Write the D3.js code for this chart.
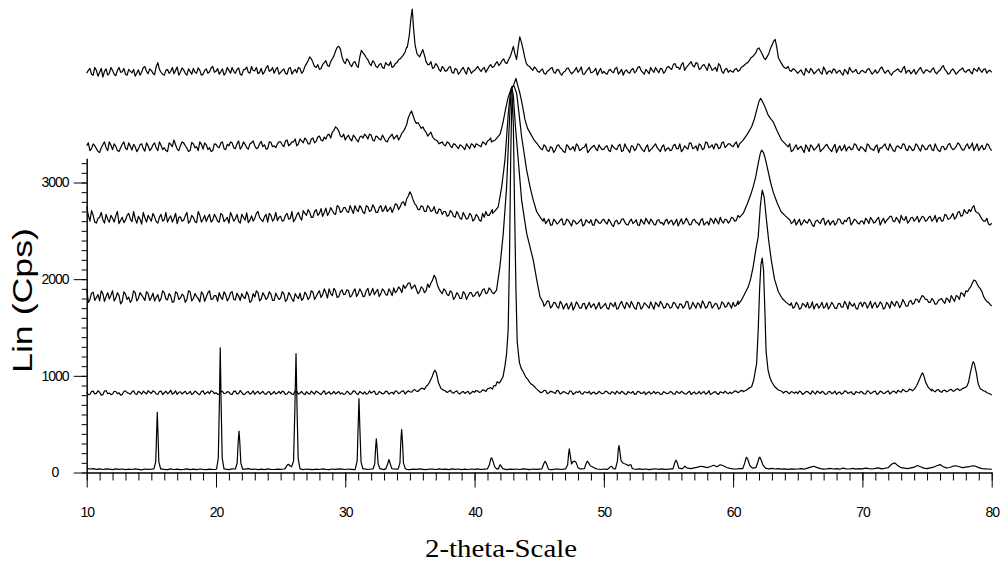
<!DOCTYPE html>
<html lang="en">
<head>
<meta charset="UTF-8">
<title>XRD patterns</title>
<script src="https://d3js.org/d3.v7.min.js"></script>
<style>
  body { margin: 0; background: #fff; }
  .tick text { font-family: "Liberation Sans", Arial, sans-serif; font-size: 14px; letter-spacing: -1px; fill: #000; }
  .axis path, .axis line { stroke: #000; }
</style>
</head>
<body>
<div id="chart"></div>
<script>
// scans read off every 0.25 deg from 10 to 80 (scanN), the in-between readings at +0.125 (midN),
// sharp peaks as extra [2theta, cps] points (peaksN)
var scanStart = 10, scanStep = 0.25;
var xMajor = [10, 20, 30, 40, 50, 60, 70, 80];
var yMajor = [0, 1000, 2000, 3000];

// bottom pattern (crystalline)
var scan1 = [
  42,36,40,33,38,31,37,34,30,38,33,36,29,35,31,37,33,28,36,32,
  34,30,36,38,33,29,37,31,35,30,33,38,30,34,29,36,32,30,35,31,
  33,36,40,35,30,37,33,38,31,35,40,32,36,30,34,29,37,33,31,35,
  32,36,34,42,40,38,35,30,36,33,29,35,31,38,32,30,36,33,37,34,
  31,36,33,29,35,32,38,31,36,33,34,37,30,35,32,36,34,31,38,33,
  30,35,32,37,33,29,36,34,31,38,33,35,30,37,32,36,29,34,31,36,
  33,38,31,35,40,34,45,40,33,37,30,35,32,36,31,38,34,30,36,33,
  35,32,37,33,30,36,34,31,38,33,36,32,34,37,31,35,39,33,36,31,
  36,32,38,34,30,37,33,36,31,35,33,38,32,36,30,35,39,33,37,32,
  34,38,40,42,40,45,45,40,48,55,65,58,50,62,75,60,80,70,52,42,
  38,36,40,36,150,70,45,50,150,80,45,38,42,36,40,35,38,33,37,34,
  36,40,34,45,55,65,50,40,35,38,42,36,40,34,45,38,36,42,35,40,
  38,45,40,36,42,48,38,44,50,85,100,70,50,45,40,48,55,72,60,45,
  40,48,55,70,82,60,48,52,65,70,60,50,55,60,70,65,50,40,38,36,
  32
];
var mid1 = [];
var peaks1 = [
  [[15.2,38],[15.34,110],[15.41,420],[15.46,623],[15.51,420],[15.58,110],[15.72,36]],
  [[20.05,40],[20.18,150],[20.26,700],[20.33,1290],[20.4,700],[20.48,150],[20.62,38]],
  [[21.5,36],[21.64,100],[21.72,320],[21.78,427],[21.84,320],[21.92,100],[22.06,34]],
  [[25.35,40],[25.5,75],[25.6,85],[25.72,70],[25.85,60],[26.0,120],[26.1,650],[26.19,1230],[26.27,650],[26.36,140],[26.5,38]],
  [[30.78,40],[30.92,120],[30.99,450],[31.06,765],[31.13,450],[31.22,110],[31.36,38]],
  [[32.15,36],[32.28,90],[32.35,260],[32.4,348],[32.46,260],[32.54,90],[32.68,38]],
  [[33.15,40],[33.28,90],[33.38,134],[33.48,90],[33.6,40]],
  [[34.1,38],[34.23,100],[34.3,330],[34.36,445],[34.42,330],[34.5,100],[34.64,40]],
  [[41.0,38],[41.15,80],[41.25,140],[41.32,152],[41.42,120],[41.55,60],[41.7,38]],
  [[41.85,38],[41.95,75],[42.0,80],[42.08,60],[42.2,36]],
  [[45.2,36],[45.35,90],[45.45,117],[45.55,95],[45.7,40]],
  [[47.05,38],[47.2,80],[47.28,200],[47.33,245],[47.4,180],[47.5,90],[47.6,110],[47.75,117],[47.85,105],[48.0,50],[48.15,38]],
  [[48.5,40],[48.62,90],[48.72,117],[48.82,100],[48.95,70],[49.1,60],[49.3,45],[49.45,38]],
  [[50.35,38],[50.5,60],[50.6,65],[50.72,40],[50.9,38],[51.05,120],[51.12,240],[51.17,279],[51.23,230],[51.32,130],[51.45,100],[51.6,90],[51.76,83],[51.9,70],[52.0,80],[52.1,80],[52.2,40],[52.35,36]],
  [[55.35,38],[55.48,100],[55.58,127],[55.68,100],[55.8,45]],
  [[56.1,40],[56.27,65],[56.45,45]],
  [[60.75,40],[60.9,100],[61.0,150],[61.04,158],[61.12,140],[61.3,70],[61.5,45],[61.75,50],[61.9,100],[62.0,150],[62.07,158],[62.15,135],[62.3,80],[62.5,45]]
];

// second pattern (sharp cubic reflections)
var scan2 = [
  835,810,842,818,830,805,848,822,812,838,825,806,845,820,832,815,840,810,828,846,
  818,836,809,842,825,815,850,822,808,835,828,812,840,818,830,806,845,824,815,838,
  826,810,839,820,832,808,842,818,827,812,836,821,809,840,824,815,833,806,838,822,
  817,834,812,828,806,840,822,815,836,810,825,842,818,830,808,836,820,813,838,824,
  812,830,818,840,808,826,835,815,822,842,810,828,819,836,824,812,838,826,845,830,
  835,850,842,858,870,890,930,1000,1050,900,860,845,838,828,836,820,832,818,840,825,
  830,842,836,850,865,878,900,940,990,1233,3900,1137,1042,990,960,950,957,935,905,870,
  841,832,848,825,836,818,842,822,830,812,838,820,828,815,835,822,810,832,818,826,
  820,835,812,828,842,816,830,808,825,838,814,832,820,806,836,822,815,830,810,827,
  818,832,810,826,840,815,828,806,834,820,812,838,822,808,830,816,836,820,826,832,
  828,840,836,845,850,870,887,1129,2218,1250,939,890,853,838,835,828,835,825,838,820,
  815,832,820,838,810,826,842,818,830,812,836,824,808,833,819,840,826,814,837,822,
  830,812,838,825,842,818,834,822,845,828,836,850,832,848,840,858,860,880,900,1000,
  880,860,845,852,838,848,835,856,842,860,850,870,887,960,1080,1146,1050,855,840,820,
  801
];
var mid2 = [
  805,838,812,845,800,842,815,806,840,815,800,838,826,810,845,806,828,842,812,830,
  845,812,838,806,842,828,810,845,830,812,840,820,806,842,812,838,810,836,845,816,
  808,842,815,836,810,840,812,848,806,832,810,845,828,812,840,808,836,820,812,840,
  842,808,836,812,845,810,838,806,820,842,812,830,806,845,822,810,838,826,812,808,
  840,808,845,815,838,812,810,845,832,808,838,812,842,810,830,845,815,840,812,845,
  830,858,838,870,860,905,960,1030,1000,880,850,828,850,820,845,812,838,830,812,840,
  848,828,855,838,872,862,895,925,960,1100,2000,1200,1060,1010,970,955,940,915,890,855,
  825,850,815,840,828,850,812,838,820,845,808,835,842,810,830,838,826,812,840,815,
  842,818,836,810,826,840,812,838,822,808,840,818,836,826,812,840,830,808,836,815,
  836,812,840,818,828,810,842,822,812,838,826,810,845,818,836,808,828,842,815,818,
  845,825,850,860,875,900,1000,1700,2000,1000,920,870,845,835,830,820,840,815,830,835,
  842,808,836,822,845,812,830,840,808,838,815,842,826,810,845,818,836,808,828,840,
  812,845,815,838,808,842,815,836,812,842,820,838,860,835,862,845,880,900,960,1010,
  870,862,835,858,830,852,842,860,845,866,855,880,900,1000,1146,1100,980,845,825,812
];
var peaks2 = [
  [[36.5,930],[36.7,985],[36.85,1040],[36.94,1058],[37.05,1030],[37.2,930],[37.4,870]],
  [[41.95,930],[42.2,990],[42.35,1100],[42.48,1233],[42.6,1478],[42.7,2200],[42.8,3300],[42.9,3935],[43.0,3600],[43.1,2700],[43.2,1900],[43.3,1350],[43.47,1137],[43.6,1080],[43.76,1042],[43.95,990],[44.15,957]],
  [[60.78,836],[61.0,850],[61.2,870],[61.43,887],[61.6,960],[61.7,1040],[61.82,1129],[61.94,1474],[62.05,1900],[62.15,2150],[62.25,2218],[62.35,2100],[62.45,1700],[62.55,1250],[62.7,1060],[62.85,980],[62.98,939],[63.2,890],[63.5,853],[63.8,838]],
  [[74.0,860],[74.2,900],[74.4,960],[74.55,1010],[74.65,1031],[74.75,1000],[74.9,930],[75.1,880],[75.35,845]],
  [[77.8,870],[78.06,887],[78.2,930],[78.35,1030],[78.5,1120],[78.57,1146],[78.65,1130],[78.8,1040],[78.95,920],[79.1,870],[79.3,850]]
];

var scan3 = [
  1900,1790,1865,1810,1775,1850,1820,1795,1880,1805,1830,1770,1845,1815,1790,1860,1800,1835,1780,1850,
  1810,1775,1840,1800,1860,1785,1825,1770,1855,1805,1830,1790,1870,1800,1820,1765,1845,1815,1880,1795,
  1830,1860,1790,1840,1805,1870,1785,1825,1850,1800,1835,1775,1815,1860,1795,1830,1810,1845,1780,1820,
  1805,1850,1790,1835,1770,1820,1855,1800,1840,1815,1865,1820,1880,1840,1860,1900,1830,1875,1820,1890,
  1845,1880,1830,1900,1850,1870,1825,1905,1860,1840,1895,1850,1880,1835,1870,1910,1880,1900,1940,1930,
  1960,1920,1895,1870,1905,1880,1915,1990,2010,1900,1850,1880,1830,1860,1815,1840,1800,1850,1825,1860,
  1830,1870,1850,1900,1860,1890,1887,2128,2474,2955,3976,3231,2818,2474,2198,2000,1900,1850,1800,1818,
  1818,1760,1740,1770,1720,1755,1700,1745,1730,1690,1760,1715,1740,1700,1750,1725,1705,1745,1720,1695,
  1730,1700,1755,1715,1690,1745,1720,1760,1705,1735,1690,1750,1710,1740,1700,1725,1760,1715,1745,1705,
  1735,1710,1750,1695,1740,1720,1765,1705,1730,1755,1700,1745,1715,1760,1725,1740,1705,1750,1720,1735,
  1760,1730,1784,1800,1850,1921,2128,2438,2921,2650,2200,1870,1800,1760,1730,1700,1745,1720,1755,1710,
  1740,1700,1735,1760,1715,1690,1745,1725,1700,1755,1720,1735,1695,1750,1710,1740,1765,1720,1700,1745,
  1715,1750,1730,1700,1760,1725,1745,1705,1740,1770,1720,1755,1735,1760,1720,1780,1750,1790,1800,1818,
  1790,1760,1780,1745,1790,1770,1805,1760,1800,1830,1790,1850,1880,1900,1960,1983,1920,1870,1790,1760,
  1720
];
var mid3 = [
  1760,1855,1780,1840,1880,1770,1860,1835,1775,1860,1745,1870,1790,1760,1880,1775,1860,1810,1870,1780,
  1855,1810,1770,1880,1795,1850,1760,1870,1790,1845,1760,1880,1775,1850,1800,1870,1770,1860,1790,1830,
  1770,1815,1870,1775,1860,1790,1855,1780,1815,1870,1760,1850,1880,1775,1860,1790,1870,1780,1855,1790,
  1870,1770,1860,1795,1850,1800,1780,1865,1790,1880,1790,1855,1810,1900,1805,1850,1905,1810,1870,1840,
  1890,1815,1870,1820,1900,1820,1880,1830,1905,1870,1820,1900,1840,1900,1830,1860,1920,1860,1905,1960,
  1900,1940,1850,1920,1860,1950,1960,2040,1940,1870,1900,1840,1880,1790,1860,1800,1870,1790,1860,1820,
  1860,1820,1890,1850,1910,1860,1900,2000,2300,2700,3800,3400,3000,2600,2300,2100,1950,1870,1800,1780,
  1790,1720,1775,1700,1760,1715,1770,1690,1750,1720,1680,1765,1700,1745,1690,1760,1730,1690,1760,1710,
  1750,1690,1740,1760,1700,1770,1695,1740,1770,1700,1760,1690,1755,1720,1765,1690,1740,1770,1700,1750,
  1700,1760,1715,1745,1700,1770,1690,1760,1700,1740,1775,1700,1765,1700,1750,1690,1765,1710,1760,1700,
  1720,1775,1800,1830,1900,2000,2200,2400,2800,2900,2500,2100,1900,1820,1780,1740,1720,1760,1700,1760,
  1690,1750,1710,1700,1765,1730,1700,1760,1715,1690,1760,1700,1745,1710,1770,1690,1735,1750,1690,1760,
  1760,1700,1770,1740,1705,1765,1690,1760,1700,1745,1770,1705,1790,1720,1770,1740,1795,1760,1830,1790,
  1760,1800,1740,1780,1800,1750,1790,1830,1770,1820,1860,1820,1870,1920,1990,1950,1900,1820,1770,1740
];
var peaks3 = [
  [[41.5,1850],[41.7,1887],[41.96,2128],[42.22,2474],[42.48,2955],[42.65,3500],[42.8,3900],[42.9,3976],[43.0,3900],[43.15,3600],[43.38,3231],[43.64,2818],[44.03,2474],[44.54,2198],[44.8,2000],[45.06,1818],[45.3,1760]],
  [[60.4,1740],[60.65,1784],[60.9,1850],[61.17,1921],[61.35,2000],[61.55,2128],[61.75,2300],[61.94,2438],[62.1,2750],[62.25,2921],[62.4,2850],[62.55,2650],[62.75,2400],[62.95,2200],[63.2,2000],[63.5,1870],[63.8,1800],[64.1,1760],[64.4,1730]]
];

var scan4 = [
  2750,2600,2660,2580,2640,2615,2670,2590,2630,2655,2575,2640,2610,2680,2595,2625,2650,2570,2635,2660,
  2600,2645,2580,2670,2615,2590,2655,2630,2575,2645,2610,2690,2600,2640,2585,2660,2620,2595,2670,2610,
  2640,2590,2665,2615,2580,2650,2625,2600,2670,2610,2585,2655,2630,2700,2615,2645,2590,2660,2625,2605,
  2650,2610,2680,2630,2595,2665,2640,2710,2660,2690,2640,2720,2680,2650,2735,2690,2710,2670,2750,2700,
  2740,2690,2720,2760,2700,2735,2680,2750,2710,2740,2690,2760,2720,2700,2745,2730,2770,2750,2800,2830,
  2904,2820,2760,2720,2750,2700,2740,2710,2690,2725,2670,2700,2660,2690,2640,2670,2620,2655,2630,2660,
  2620,2650,2600,2640,2660,2690,2710,2749,2955,3231,3715,3990,4000,3921,3473,3128,3000,2818,2700,2645,
  2645,2600,2575,2620,2560,2600,2585,2625,2570,2610,2550,2600,2580,2620,2565,2595,2615,2560,2605,2580,
  2620,2570,2595,2545,2610,2580,2625,2565,2600,2575,2615,2555,2590,2630,2570,2600,2560,2615,2585,2605,
  2570,2610,2585,2550,2625,2590,2600,2565,2620,2580,2610,2560,2595,2630,2575,2600,2640,2580,2615,2600,
  2630,2610,2640,2680,2780,2870,2955,3197,3335,3240,3000,2900,2790,2700,2660,2630,2600,2610,2575,2620,
  2590,2560,2615,2580,2600,2545,2610,2575,2630,2590,2560,2605,2580,2620,2570,2595,2640,2585,2610,2570,
  2600,2630,2575,2615,2590,2640,2600,2580,2625,2650,2595,2615,2660,2610,2580,2635,2600,2650,2620,2640,
  2610,2650,2620,2590,2640,2605,2660,2625,2680,2640,2700,2660,2690,2720,2740,2700,2680,2620,2600,2570,
  2580
];
var mid4 = [
  2660,2710,2590,2630,2690,2580,2620,2660,2590,2700,2610,2585,2660,2620,2700,2580,2620,2690,2590,2630,
  2680,2595,2640,2600,2690,2630,2590,2680,2640,2600,2655,2580,2660,2595,2700,2590,2660,2640,2590,2670,
  2600,2680,2595,2640,2690,2600,2670,2580,2640,2685,2610,2600,2680,2640,2595,2670,2680,2600,2690,2640,
  2600,2660,2620,2700,2620,2690,2610,2680,2720,2640,2700,2660,2730,2690,2660,2740,2680,2760,2690,2740,
  2700,2760,2680,2720,2760,2690,2760,2700,2770,2690,2740,2700,2760,2720,2690,2780,2720,2790,2760,2860,
  2870,2780,2720,2760,2700,2760,2700,2750,2680,2720,2700,2650,2710,2650,2700,2630,2690,2620,2680,2600,
  2670,2610,2680,2700,2660,2720,2730,2850,3100,3500,3900,4000,3700,3300,3000,2900,2750,2680,2640,2620,
  2620,2630,2600,2560,2620,2570,2610,2560,2620,2580,2610,2570,2600,2550,2615,2580,2560,2620,2580,2610,
  2590,2620,2560,2600,2570,2620,2590,2560,2620,2590,2560,2620,2570,2600,2620,2565,2610,2580,2560,2620,
  2600,2560,2620,2590,2570,2630,2560,2610,2590,2560,2625,2580,2560,2610,2630,2570,2600,2620,2580,2640,
  2600,2660,2660,2700,2830,2900,3100,3300,3300,3100,2950,2850,2750,2680,2640,2610,2620,2580,2590,2560,
  2620,2580,2590,2620,2560,2600,2590,2620,2560,2610,2590,2560,2625,2580,2610,2630,2560,2620,2580,2600,
  2570,2610,2640,2580,2620,2560,2630,2610,2650,2600,2640,2580,2620,2650,2600,2640,2620,2590,2650,2600,
  2640,2600,2660,2630,2600,2670,2620,2650,2620,2690,2650,2720,2680,2700,2760,2690,2650,2600,2630,2560
];
var peaks4 = [
  [[41.4,2680],[41.6,2710],[41.83,2749],[42.1,2955],[42.35,3231],[42.61,3715],[42.75,3900],[42.87,3990],[43.05,4000],[43.26,3921],[43.45,3700],[43.64,3473],[44.03,3128],[44.3,2950],[44.54,2818],[44.8,2700],[45.06,2645],[45.3,2600]],
  [[60.5,2640],[60.78,2680],[61.1,2780],[61.35,2870],[61.55,2955],[61.75,3060],[61.94,3197],[62.1,3300],[62.2,3335],[62.35,3310],[62.5,3240],[62.7,3120],[62.9,3000],[63.1,2900],[63.4,2790],[63.7,2700],[64.0,2660],[64.4,2610]]
];

var scan5 = [
  3380,3330,3400,3350,3310,3390,3360,3420,3340,3375,3320,3395,3355,3410,3335,3370,3345,3400,3325,3380,
  3350,3410,3330,3385,3360,3320,3395,3440,3345,3380,3410,3355,3330,3400,3370,3420,3345,3390,3360,3330,
  3395,3360,3420,3340,3380,3410,3350,3430,3370,3395,3345,3410,3380,3360,3425,3390,3350,3415,3380,3400,
  3420,3370,3440,3395,3420,3380,3450,3410,3440,3400,3460,3425,3480,3430,3450,3500,3520,3576,3530,3470,
  3440,3490,3430,3470,3420,3480,3500,3450,3490,3430,3470,3440,3460,3420,3480,3450,3490,3470,3530,3600,
  3710,3690,3611,3590,3576,3520,3500,3473,3440,3400,3420,3380,3410,3360,3395,3350,3380,3340,3375,3400,
  3360,3390,3370,3410,3430,3460,3440,3500,3620,3880,4000,3921,3650,3500,3400,3380,3360,3390,3370,3360,
  3380,3340,3370,3320,3360,3335,3390,3345,3310,3375,3350,3325,3380,3340,3365,3310,3355,3385,3330,3360,
  3345,3380,3320,3365,3340,3395,3330,3360,3310,3375,3350,3390,3335,3365,3320,3355,3400,3340,3370,3325,
  3360,3335,3395,3350,3320,3380,3345,3405,3360,3330,3385,3350,3410,3370,3345,3395,3360,3420,3380,3400,
  3370,3420,3400,3438,3500,3576,3749,3870,3783,3660,3542,3480,3438,3400,3369,3340,3380,3350,3320,3365,
  3340,3375,3310,3360,3390,3335,3370,3320,3355,3395,3340,3365,3310,3380,3350,3325,3370,3345,3390,3330,
  3360,3320,3385,3345,3370,3310,3355,3400,3335,3365,3320,3380,3350,3395,3330,3360,3340,3385,3325,3370,
  3345,3390,3330,3360,3320,3375,3350,3405,3340,3370,3395,3335,3380,3350,3410,3365,3330,3385,3350,3390,
  3330
];
var mid5 = [
  3410,3350,3380,3320,3360,3420,3330,3385,3400,3330,3360,3420,3340,3375,3395,3320,3390,3350,3410,3330,
  3390,3360,3420,3340,3330,3410,3370,3390,3330,3420,3380,3320,3415,3360,3330,3395,3410,3340,3320,3400,
  3370,3410,3350,3395,3420,3360,3400,3345,3420,3360,3400,3430,3350,3400,3370,3345,3420,3370,3360,3420,
  3390,3430,3380,3420,3450,3400,3430,3460,3400,3450,3410,3470,3440,3470,3490,3460,3540,3560,3480,3500,
  3470,3450,3490,3440,3470,3460,3480,3500,3440,3480,3450,3490,3430,3460,3500,3470,3440,3510,3560,3670,
  3740,3640,3620,3560,3540,3480,3520,3450,3430,3410,3390,3420,3380,3400,3370,3390,3360,3400,3350,3390,
  3400,3380,3420,3390,3440,3420,3480,3560,3700,3900,4000,4000,3800,3600,3480,3400,3380,3360,3380,3350,
  3350,3390,3330,3370,3310,3380,3360,3320,3390,3340,3370,3400,3330,3360,3400,3330,3370,3350,3390,3340,
  3370,3330,3390,3350,3380,3320,3400,3340,3380,3330,3400,3360,3320,3390,3340,3380,3360,3320,3390,3350,
  3330,3380,3350,3400,3340,3360,3410,3350,3380,3400,3340,3420,3360,3390,3400,3350,3410,3360,3400,3380,
  3400,3360,3420,3460,3540,3620,3800,3850,3800,3700,3640,3580,3500,3440,3400,3370,3380,3400,3330,3390,
  3360,3340,3390,3320,3370,3350,3400,3340,3380,3360,3320,3395,3350,3330,3390,3360,3340,3400,3350,3370,
  3340,3400,3350,3330,3390,3360,3380,3350,3400,3330,3370,3360,3400,3340,3380,3330,3400,3350,3390,3340,
  3380,3340,3400,3330,3370,3340,3390,3360,3350,3410,3360,3340,3400,3370,3330,3400,3360,3340,3400,3350
];
var peaks5 = [
  [[41.3,3420],[41.6,3440],[41.98,3500],[42.2,3620],[42.4,3760],[42.6,3880],[42.8,3960],[43.0,4000],[43.2,4076],[43.35,4000],[43.51,3921],[43.7,3800],[43.9,3650],[44.1,3560],[44.35,3500],[44.6,3440],[44.85,3400],[45.06,3360]],
  [[60.5,3400],[60.78,3438],[61.1,3500],[61.43,3576],[61.65,3660],[61.82,3749],[62.0,3840],[62.13,3870],[62.3,3830],[62.46,3783],[62.7,3700],[62.9,3660],[63.1,3628],[63.37,3542],[63.75,3438],[64.26,3369]]
];

// top pattern
var scan6 = [
  4130,4180,4110,4160,4140,4090,4175,4130,4160,4105,4190,4145,4120,4170,4135,4100,4165,4140,4200,4125,
  4160,4115,4240,4140,4110,4170,4150,4125,4195,4140,4165,4110,4150,4180,4130,4160,4120,4175,4145,4200,
  4150,4120,4175,4135,4160,4190,4130,4185,4110,4170,4140,4200,4155,4125,4180,4145,4210,4160,4130,4190,
  4140,4175,4120,4190,4150,4135,4180,4150,4230,4300,4240,4190,4170,4220,4260,4200,4280,4360,4409,4300,
  4230,4260,4200,4250,4190,4368,4320,4270,4210,4240,4190,4230,4180,4220,4250,4200,4240,4280,4320,4400,
  4700,4600,4330,4300,4375,4250,4220,4180,4230,4170,4200,4150,4190,4140,4180,4120,4170,4150,4190,4130,
  4160,4200,4150,4190,4170,4220,4200,4250,4230,4280,4232,4300,4409,4272,4506,4380,4232,4200,4160,4180,
  4140,4175,4120,4160,4190,4130,4165,4110,4150,4185,4125,4160,4140,4195,4120,4170,4135,4155,4110,4180,
  4150,4120,4170,4135,4190,4145,4110,4165,4130,4180,4150,4200,4140,4170,4125,4160,4190,4135,4175,4150,
  4200,4170,4230,4190,4220,4160,4210,4250,4195,4230,4180,4220,4160,4200,4175,4150,4210,4130,4180,4160,
  4140,4180,4160,4200,4230,4260,4300,4340,4392,4330,4271,4330,4420,4480,4290,4230,4186,4200,4150,4170,
  4130,4165,4110,4150,4180,4125,4160,4140,4195,4120,4155,4175,4130,4160,4110,4150,4190,4140,4170,4125,
  4160,4135,4180,4120,4165,4145,4195,4130,4160,4110,4150,4175,4140,4200,4155,4125,4170,4145,4190,4130,
  4165,4140,4185,4125,4160,4210,4150,4130,4175,4120,4160,4185,4140,4170,4125,4165,4190,4140,4175,4155,
  4140
];
var mid6 = [
  4160,4120,4190,4100,4180,4150,4110,4190,4120,4160,4140,4180,4110,4150,4170,4130,4110,4190,4150,4175,
  4130,4195,4170,4120,4160,4130,4190,4160,4110,4185,4130,4175,4120,4140,4185,4110,4160,4130,4185,4140,
  4180,4145,4110,4190,4130,4150,4170,4120,4165,4195,4130,4160,4190,4140,4120,4185,4150,4190,4170,4120,
  4160,4130,4180,4120,4170,4190,4130,4200,4260,4280,4200,4220,4180,4240,4210,4250,4310,4400,4380,4250,
  4280,4220,4240,4210,4300,4340,4290,4230,4260,4200,4220,4190,4240,4210,4190,4230,4270,4300,4350,4450,
  4750,4500,4320,4340,4320,4220,4250,4190,4210,4150,4180,4160,4200,4130,4170,4140,4190,4120,4170,4150,
  4180,4170,4175,4140,4200,4190,4230,4210,4260,4240,4270,4350,4330,4400,4450,4300,4210,4180,4195,4150,
  4160,4130,4150,4180,4140,4170,4130,4140,4180,4150,4140,4190,4160,4120,4150,4190,4140,4180,4150,4130,
  4130,4160,4145,4180,4120,4170,4150,4140,4165,4135,4190,4160,4120,4150,4190,4140,4160,4180,4130,4190,
  4180,4220,4190,4170,4240,4190,4230,4210,4240,4170,4210,4190,4230,4160,4190,4230,4150,4170,4140,4150,
  4170,4150,4190,4215,4240,4290,4320,4380,4360,4290,4300,4380,4460,4400,4260,4200,4180,4160,4175,4150,
  4150,4130,4180,4135,4160,4140,4175,4120,4160,4150,4130,4165,4150,4130,4170,4120,4160,4150,4130,4150,
  4145,4170,4150,4140,4130,4180,4160,4150,4130,4140,4165,4150,4180,4130,4160,4145,4120,4170,4150,4160,
  4150,4170,4140,4150,4190,4170,4120,4160,4150,4140,4170,4150,4160,4140,4180,4150,4160,4170,4130,4160
];
var peaks6 = [
  [[34.8,4400],[34.95,4520],[35.08,4700],[35.18,4795],[35.28,4600],[35.4,4420],[35.55,4330],[35.75,4300],[36.0,4375],[36.2,4280]]
];

var scans = [
  [scan1, mid1, peaks1], [scan2, mid2, peaks2], [scan3, mid3, peaks3],
  [scan4, mid4, peaks4], [scan5, mid5, peaks5], [scan6, mid6, peaks6]
];

// merge the regular readings with the finer peak readings
function buildScan(grid, mids, peaks) {
    var pts = grid.map(function(v, i) { return [scanStart + i * scanStep, v]; })
        .concat(mids.map(function(v, i) { return [scanStart + scanStep / 2 + i * scanStep, v]; }));
    peaks.forEach(function(seg) {
        var lo = seg[0][0], hi = seg[seg.length - 1][0];
        pts = pts.filter(function(p) { return p[0] < lo || p[0] > hi; }).concat(seg);
    });
    return pts.sort(function(a, b) { return a[0] - b[0]; });
}

var width = 1002, height = 564;

var svg = d3.select("#chart")
    .append("svg")
    .attr("width", width)
    .attr("height", height);

var x = d3.scaleLinear().domain([10, 80]).range([86.7, 991.7]);
var y = d3.scaleLinear().domain([0, 3000]).range([472.5, 182.5]);
// y axis line runs a bit above the last label
var yAxisScale = d3.scaleLinear().domain([0, 3250]).range([y(0), y(3250)]);

// X axis: minor every degree, major every 10
svg.append("g")
    .attr("class", "axis")
    .attr("transform", "translate(0," + y(0) + ")")
    .call(d3.axisBottom(x).tickValues(d3.range(10, 81, 1)).tickSize(8).tickSizeOuter(0).tickFormat(""));
var xAx = svg.append("g")
    .attr("class", "axis")
    .attr("transform", "translate(0," + y(0) + ")")
    .call(d3.axisBottom(x).tickValues(xMajor).tickSize(15).tickSizeOuter(0).tickFormat(d3.format("d")));
xAx.selectAll(".tick text").attr("y", 44.5).attr("dy", 0);

// Y axis: minor every 100, major every 1000
svg.append("g")
    .attr("class", "axis")
    .attr("transform", "translate(" + x(10) + ",0)")
    .call(d3.axisLeft(yAxisScale).tickValues(d3.range(0, 3201, 100)).tickSize(5).tickSizeOuter(0).tickFormat(""));
var yAx = svg.append("g")
    .attr("class", "axis")
    .attr("transform", "translate(" + x(10) + ",0)")
    .call(d3.axisLeft(yAxisScale).tickValues(yMajor).tickSize(13).tickSizeOuter(0).tickFormat(d3.format("d")));
yAx.selectAll(".tick text").attr("x", 55 - x(10)).attr("text-anchor", "middle");

// the patterns
var line = d3.line()
    .x(function(d) { return x(d[0]); })
    .y(function(d) { return y(d[1]); });

svg.selectAll(".scan")
    .data(scans)
    .enter()
    .append("path")
    .attr("class", "scan")
    .attr("fill", "none")
    .attr("stroke", "#000")
    .attr("stroke-width", 1.2)
    .attr("stroke-linejoin", "round")
    .attr("d", function(s) { return line(buildScan(s[0], s[1], s[2])); });

// axis titles
svg.append("text")
    .attr("transform", "translate(32,300.5) rotate(-90)")
    .attr("text-anchor", "middle")
    .attr("textLength", 145)
    .attr("lengthAdjust", "spacingAndGlyphs")
    .style("font-family", "'Liberation Sans', Arial, sans-serif")
    .style("font-size", "28px")
    .text("Lin (Cps)");

svg.append("text")
    .attr("x", 501)
    .attr("y", 557)
    .attr("text-anchor", "middle")
    .attr("textLength", 152)
    .attr("lengthAdjust", "spacingAndGlyphs")
    .style("font-family", "'Liberation Serif', 'Times New Roman', serif")
    .style("font-size", "26px")
    .text("2-theta-Scale");
</script>
</body>
</html>
